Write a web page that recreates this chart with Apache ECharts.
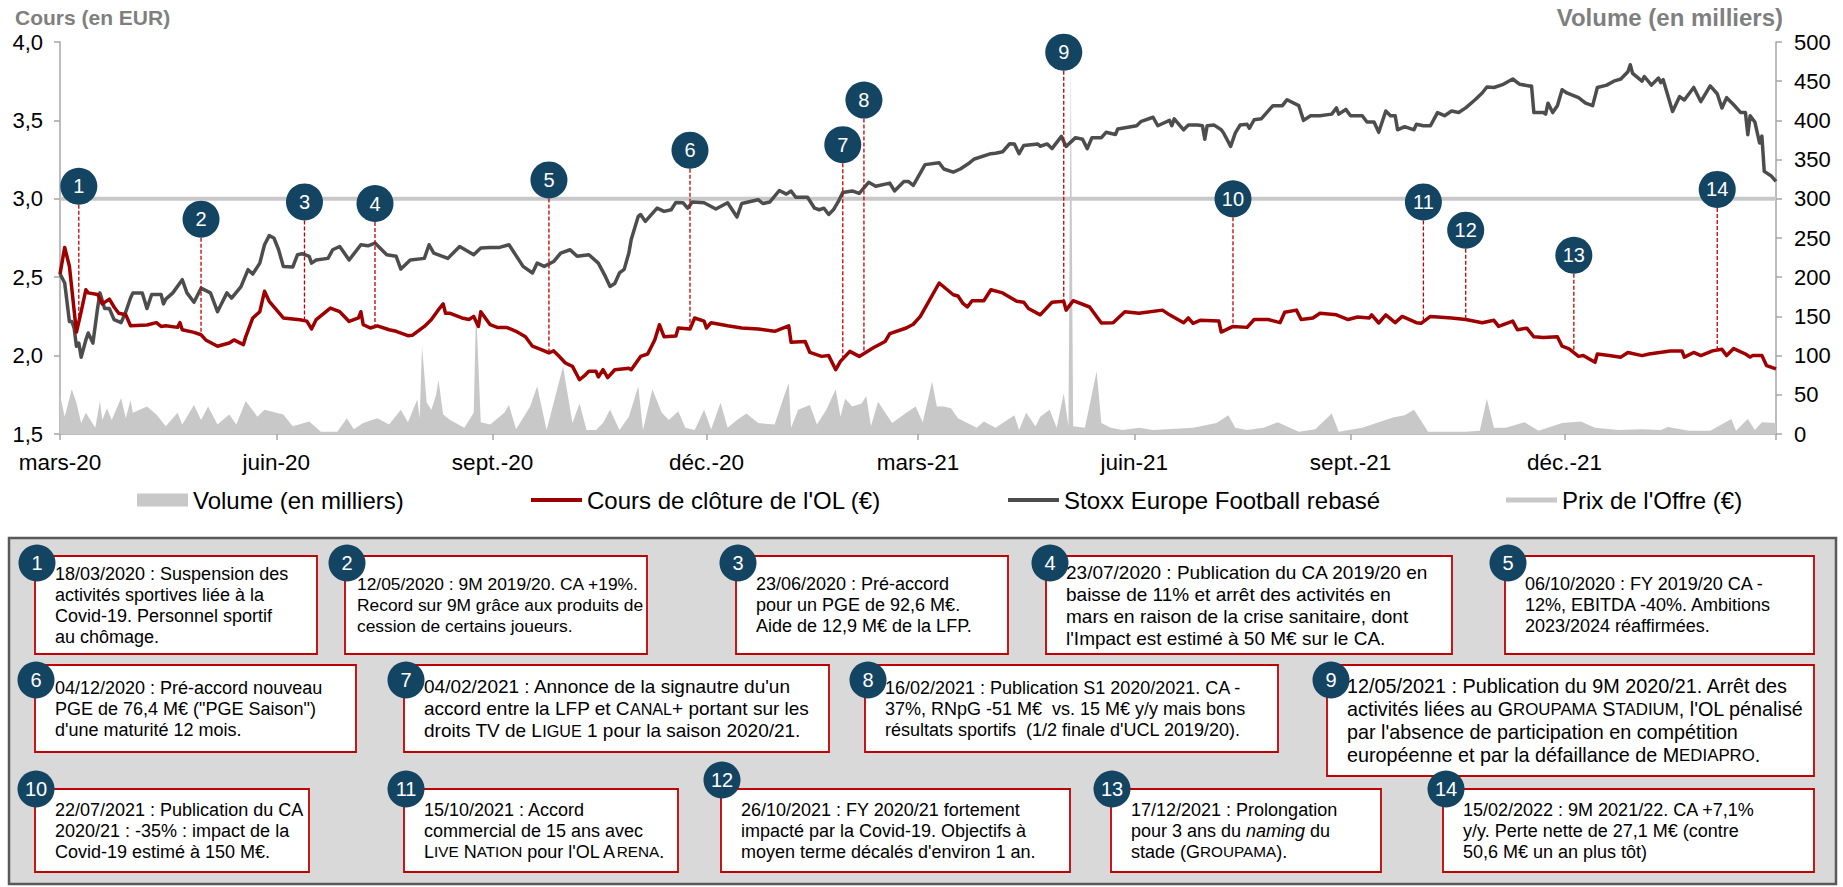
<!DOCTYPE html>
<html><head><meta charset="utf-8">
<script src="https://cdn.jsdelivr.net/npm/echarts@6.0.0/dist/echarts.min.js"></script>
<style>html,body{margin:0;padding:0;background:#fff;}#c{width:1843px;height:887px;}</style>
</head><body><div id="c"></div>
<script>
// ---------------- DATA ----------------
const axisStart = '2020-03-11', axisEnd = '2022-03-11';
const tickDates = ['2020-03-11','2020-06-11','2020-09-11','2020-12-11','2021-03-11','2021-06-11','2021-09-11','2021-12-11'];
const tickLabels = ['mars-20','juin-20','sept.-20','déc.-20','mars-21','juin-21','sept.-21','déc.-21'];
const offerPrice = 3.0;

const olClose = [
['2020-03-11',2.52],['2020-03-13',2.69],['2020-03-15',2.57],['2020-03-18',2.15],['2020-03-20',2.28],['2020-03-22',2.42],['2020-03-23',2.40],['2020-03-27',2.39],['2020-03-28',2.36],['2020-03-29',2.33],
['2020-04-01',2.36],['2020-04-03',2.31],['2020-04-05',2.27],['2020-04-08',2.26],['2020-04-10',2.19],['2020-04-17',2.195],['2020-04-21',2.21],['2020-04-23',2.186],['2020-04-25',2.19],['2020-04-30',2.18],
['2020-05-01',2.21],['2020-05-02',2.165],['2020-05-07',2.148],['2020-05-10',2.133],['2020-05-12',2.10],['2020-05-17',2.06],['2020-05-22',2.08],['2020-05-24',2.10],['2020-05-28',2.07],['2020-05-29',2.12],
['2020-06-01',2.24],['2020-06-04',2.28],['2020-06-06',2.41],['2020-06-08',2.346],['2020-06-11',2.293],['2020-06-14',2.24],['2020-06-21',2.229],['2020-06-24',2.22],['2020-06-26',2.17],['2020-06-28',2.23],
['2020-07-04',2.303],['2020-07-08',2.28],['2020-07-12',2.218],['2020-07-16',2.24],['2020-07-17',2.28],['2020-07-18',2.197],['2020-07-21',2.176],['2020-07-24',2.19],['2020-07-29',2.165],
['2020-08-01',2.155],['2020-08-06',2.127],['2020-08-08',2.13],['2020-08-13',2.186],['2020-08-16',2.23],['2020-08-19',2.293],['2020-08-21',2.33],['2020-08-22',2.27],['2020-08-24',2.27],['2020-08-29',2.24],
['2020-09-01',2.23],['2020-09-03',2.25],['2020-09-05',2.186],['2020-09-06',2.28],['2020-09-10',2.197],['2020-09-13',2.18],['2020-09-17',2.18],['2020-09-21',2.155],['2020-09-25',2.12],['2020-09-28',2.06],
['2020-10-02',2.037],['2020-10-05',2.017],['2020-10-07',2.03],['2020-10-09',2.0],['2020-10-12',1.953],['2020-10-15',1.931],['2020-10-18',1.846],['2020-10-20',1.87],['2020-10-22',1.90],['2020-10-25',1.90],
['2020-10-26',1.864],['2020-10-28',1.91],['2020-10-30',1.86],['2020-11-02',1.91],['2020-11-08',1.92],['2020-11-09',1.91],['2020-11-13',1.995],['2020-11-16',2.01],['2020-11-19',2.10],['2020-11-21',2.197],
['2020-11-23',2.12],['2020-11-28',2.125],['2020-11-29',2.176],['2020-12-04',2.17],['2020-12-06',2.24],['2020-12-10',2.22],['2020-12-11',2.176],['2020-12-13',2.21],['2020-12-20',2.19],['2020-12-26',2.176],
['2021-01-02',2.17],['2021-01-09',2.155],['2021-01-15',2.19],['2021-01-16',2.085],['2021-01-22',2.09],['2021-01-24',2.02],['2021-01-29',1.995],['2021-02-01',2.0],['2021-02-04',1.91],['2021-02-06',1.963],
['2021-02-10',2.027],['2021-02-14',1.995],['2021-02-20',2.05],['2021-02-25',2.09],['2021-02-27',2.14],['2021-03-06',2.176],['2021-03-09',2.2],['2021-03-12',2.25],['2021-03-20',2.463],['2021-03-26',2.388],
['2021-03-28',2.38],['2021-03-30',2.335],['2021-04-01',2.31],['2021-04-03',2.35],['2021-04-08',2.35],['2021-04-11',2.42],['2021-04-16',2.40],['2021-04-22',2.346],['2021-04-25',2.34],['2021-04-27',2.30],
['2021-05-02',2.26],['2021-05-07',2.34],['2021-05-12',2.346],['2021-05-13',2.29],['2021-05-16',2.35],['2021-05-23',2.31],['2021-05-28',2.208],['2021-06-02',2.21],['2021-06-07',2.28],['2021-06-13',2.27],
['2021-06-23',2.29],['2021-06-26',2.26],['2021-07-02',2.21],['2021-07-04',2.24],['2021-07-06',2.206],['2021-07-09',2.225],['2021-07-17',2.22],['2021-07-18',2.15],['2021-07-23',2.186],['2021-07-29',2.18],
['2021-08-01',2.23],['2021-08-07',2.23],['2021-08-12',2.21],['2021-08-14',2.276],['2021-08-19',2.29],['2021-08-21',2.23],['2021-08-26',2.24],['2021-08-29',2.27],['2021-09-05',2.26],['2021-09-10',2.23],
['2021-09-14',2.246],['2021-09-19',2.24],['2021-09-20',2.26],['2021-09-23',2.208],['2021-09-26',2.26],['2021-09-30',2.21],['2021-10-03',2.25],['2021-10-09',2.21],['2021-10-11',2.206],['2021-10-15',2.25],
['2021-10-24',2.24],['2021-10-30',2.23],['2021-11-06',2.21],['2021-11-11',2.225],['2021-11-13',2.186],['2021-11-19',2.22],['2021-11-21',2.165],['2021-11-25',2.175],['2021-11-28',2.12],['2021-12-02',2.116],
['2021-12-08',2.12],['2021-12-10',2.06],['2021-12-13',2.043],['2021-12-17',1.995],['2021-12-19',2.0],['2021-12-24',1.957],['2021-12-25',2.01],['2021-12-30',2.0],['2022-01-04',1.99],['2022-01-07',2.02],
['2022-01-13',2.0],['2022-01-16',2.01],['2022-01-25',2.03],['2022-01-30',2.03],['2022-01-31',1.99],['2022-02-04',2.02],['2022-02-07',2.0],['2022-02-12',2.03],['2022-02-16',2.04],['2022-02-18',2.0],
['2022-02-21',2.045],['2022-02-26',2.01],['2022-02-28',1.99],['2022-03-01',2.0],['2022-03-05',2.0],['2022-03-07',1.936],['2022-03-11',1.915]
];

const stoxxRebased = [
['2020-03-11',2.522],['2020-03-13',2.463],['2020-03-15',2.218],['2020-03-16',2.218],['2020-03-17',2.176],['2020-03-18',2.059],['2020-03-19',2.08],['2020-03-20',1.99],['2020-03-22',2.10],['2020-03-23',2.144],
['2020-03-25',2.08],['2020-03-27',2.303],['2020-03-28',2.40],['2020-03-30',2.30],['2020-04-01',2.30],['2020-04-03',2.229],['2020-04-06',2.21],['2020-04-08',2.28],['2020-04-10',2.367],['2020-04-11',2.40],
['2020-04-15',2.40],['2020-04-17',2.30],['2020-04-19',2.39],['2020-04-23',2.39],['2020-04-24',2.33],['2020-04-25',2.36],['2020-04-28',2.40],['2020-05-02',2.484],['2020-05-04',2.40],['2020-05-07',2.34],
['2020-05-10',2.43],['2020-05-14',2.40],['2020-05-17',2.28],['2020-05-18',2.31],['2020-05-21',2.40],['2020-05-23',2.367],['2020-05-27',2.44],['2020-05-30',2.548],['2020-06-01',2.52],['2020-06-04',2.59],
['2020-06-06',2.707],['2020-06-08',2.765],['2020-06-10',2.75],['2020-06-12',2.675],['2020-06-14',2.569],['2020-06-18',2.565],['2020-06-20',2.643],['2020-06-22',2.65],['2020-06-25',2.633],['2020-06-26',2.59],
['2020-06-28',2.61],['2020-07-03',2.62],['2020-07-05',2.675],['2020-07-08',2.696],['2020-07-12',2.61],['2020-07-17',2.707],['2020-07-20',2.70],['2020-07-23',2.718],['2020-07-28',2.643],['2020-08-01',2.633],
['2020-08-03',2.552],['2020-08-07',2.61],['2020-08-13',2.62],['2020-08-15',2.707],['2020-08-17',2.654],['2020-08-23',2.62],['2020-08-28',2.696],['2020-09-03',2.643],['2020-09-06',2.686],['2020-09-10',2.69],
['2020-09-14',2.69],['2020-09-18',2.707],['2020-09-24',2.569],['2020-09-28',2.527],['2020-09-30',2.59],['2020-10-03',2.569],['2020-10-07',2.60],['2020-10-10',2.654],['2020-10-14',2.675],['2020-10-17',2.633],
['2020-10-22',2.643],['2020-10-26',2.59],['2020-10-29',2.505],['2020-10-31',2.441],['2020-11-02',2.46],['2020-11-04',2.527],['2020-11-06',2.55],['2020-11-08',2.655],['2020-11-09',2.74],['2020-11-12',2.888],
['2020-11-13',2.90],['2020-11-15',2.856],['2020-11-20',2.941],['2020-11-23',2.92],['2020-11-26',2.93],['2020-11-28',2.977],['2020-12-01',2.975],['2020-12-03',2.94],['2020-12-05',2.98],['2020-12-10',2.975],
['2020-12-15',2.935],['2020-12-20',2.975],['2020-12-24',2.884],['2020-12-26',2.97],['2021-01-02',2.994],['2021-01-04',2.97],['2021-01-07',2.98],['2021-01-11',3.053],['2021-01-14',3.03],['2021-01-16',3.05],
['2021-01-18',3.01],['2021-01-23',3.01],['2021-01-26',2.94],['2021-01-28',2.93],['2021-01-30',2.94],['2021-02-01',2.90],['2021-02-03',2.93],['2021-02-05',2.98],['2021-02-07',3.04],['2021-02-11',3.05],
['2021-02-14',3.035],['2021-02-18',3.105],['2021-02-21',3.08],['2021-02-27',3.10],['2021-03-01',3.05],['2021-03-05',3.11],['2021-03-07',3.11],['2021-03-09',3.085],['2021-03-14',3.218],['2021-03-20',3.23],
['2021-03-22',3.19],['2021-03-26',3.17],['2021-03-29',3.19],['2021-04-02',3.23],['2021-04-04',3.254],['2021-04-11',3.288],['2021-04-13',3.29],['2021-04-16',3.30],['2021-04-19',3.351],['2021-04-21',3.35],
['2021-04-23',3.288],['2021-04-25',3.34],['2021-05-01',3.35],['2021-05-02',3.335],['2021-05-05',3.35],['2021-05-07',3.32],['2021-05-11',3.398],['2021-05-13',3.334],['2021-05-17',3.39],['2021-05-20',3.38],
['2021-05-22',3.32],['2021-05-24',3.39],['2021-05-28',3.39],['2021-05-30',3.424],['2021-06-03',3.41],['2021-06-04',3.445],['2021-06-12',3.466],['2021-06-14',3.494],['2021-06-19',3.52],['2021-06-21',3.466],
['2021-06-26',3.50],['2021-06-27',3.466],['2021-06-28',3.51],['2021-07-02',3.44],['2021-07-04',3.47],['2021-07-08',3.47],['2021-07-10',3.466],['2021-07-11',3.38],['2021-07-12',3.466],['2021-07-15',3.47],
['2021-07-18',3.44],['2021-07-19',3.42],['2021-07-22',3.334],['2021-07-24',3.42],['2021-07-26',3.47],['2021-07-29',3.475],['2021-07-30',3.45],['2021-08-01',3.504],['2021-08-04',3.51],['2021-08-09',3.594],
['2021-08-13',3.594],['2021-08-15',3.632],['2021-08-20',3.594],['2021-08-22',3.50],['2021-08-25',3.53],['2021-08-29',3.53],['2021-09-03',3.54],['2021-09-05',3.58],['2021-09-06',3.54],['2021-09-09',3.57],
['2021-09-11',3.53],['2021-09-16',3.53],['2021-09-18',3.49],['2021-09-21',3.49],['2021-09-23',3.424],['2021-09-26',3.56],['2021-09-28',3.53],['2021-09-30',3.53],['2021-10-01',3.44],['2021-10-04',3.46],
['2021-10-08',3.44],['2021-10-09',3.475],['2021-10-12',3.466],['2021-10-15',3.466],['2021-10-18',3.55],['2021-10-21',3.53],['2021-10-24',3.56],['2021-10-27',3.55],['2021-10-30',3.58],['2021-11-03',3.632],
['2021-11-06',3.675],['2021-11-08',3.713],['2021-11-11',3.71],['2021-11-15',3.73],['2021-11-19',3.764],['2021-11-22',3.73],['2021-11-26',3.72],['2021-11-27',3.72],['2021-11-28',3.55],['2021-12-02',3.55],
['2021-12-03',3.54],['2021-12-04',3.61],['2021-12-06',3.55],['2021-12-08',3.594],['2021-12-10',3.696],['2021-12-12',3.675],['2021-12-17',3.645],['2021-12-20',3.61],['2021-12-23',3.594],['2021-12-25',3.71],
['2021-12-29',3.725],['2022-01-01',3.75],['2022-01-04',3.764],['2022-01-07',3.81],['2022-01-08',3.855],['2022-01-09',3.80],['2022-01-13',3.75],['2022-01-14',3.78],['2022-01-17',3.725],['2022-01-20',3.77],
['2022-01-21',3.74],['2022-01-22',3.76],['2022-01-26',3.557],['2022-01-29',3.652],['2022-01-31',3.63],['2022-02-04',3.71],['2022-02-07',3.62],['2022-02-11',3.72],['2022-02-14',3.67],['2022-02-16',3.579],
['2022-02-18',3.645],['2022-02-21',3.60],['2022-02-24',3.55],['2022-02-26',3.55],['2022-02-27',3.409],['2022-02-28',3.53],['2022-03-02',3.49],['2022-03-04',3.356],['2022-03-05',3.40],['2022-03-06',3.175],
['2022-03-09',3.145],['2022-03-11',3.111]
];

const volumeK = [
['2020-03-11',50],['2020-03-13',22],['2020-03-16',57],['2020-03-18',40],['2020-03-20',14],['2020-03-22',27],['2020-03-26',8],['2020-03-28',42],['2020-03-29',18],['2020-03-31',33],
['2020-04-02',18],['2020-04-06',46],['2020-04-08',20],['2020-04-10',43],['2020-04-11',27],['2020-04-17',35],['2020-04-21',25],['2020-04-25',10],['2020-04-30',27],['2020-05-02',12],
['2020-05-07',37],['2020-05-10',18],['2020-05-13',35],['2020-05-17',12],['2020-05-22',25],['2020-05-25',12],['2020-05-29',42],['2020-06-03',22],['2020-06-06',31],['2020-06-11',27],
['2020-06-14',25],['2020-06-18',10],['2020-06-25',16],['2020-06-30',3],['2020-07-07',3],['2020-07-11',20],['2020-07-14',6],['2020-07-18',14],['2020-07-24',20],['2020-07-29',12],
['2020-08-03',31],['2020-08-06',15],['2020-08-10',44],['2020-08-11',20],['2020-08-12',112],['2020-08-14',40],['2020-08-16',31],['2020-08-18',50],['2020-08-19',69],['2020-08-21',25],
['2020-08-24',18],['2020-08-30',8],['2020-09-03',27],['2020-09-04',160],['2020-09-06',15],['2020-09-10',12],['2020-09-16',27],['2020-09-18',37],['2020-09-21',6],['2020-09-27',35],
['2020-09-30',61],['2020-10-04',5],['2020-10-11',86],['2020-10-15',14],['2020-10-18',39],['2020-10-21',5],['2020-10-25',5],['2020-10-28',14],['2020-10-31',31],['2020-11-04',5],
['2020-11-08',22],['2020-11-12',61],['2020-11-14',5],['2020-11-18',57],['2020-11-22',27],['2020-11-25',18],['2020-11-29',29],['2020-12-02',8],['2020-12-06',5],['2020-12-10',31],
['2020-12-13',6],['2020-12-17',40],['2020-12-20',8],['2020-12-24',18],['2020-12-28',26],['2021-01-02',14],['2021-01-09',12],['2021-01-13',48],['2021-01-15',65],['2021-01-16',8],
['2021-01-19',31],['2021-01-24',37],['2021-01-27',12],['2021-01-31',31],['2021-02-04',57],['2021-02-06',22],['2021-02-08',45],['2021-02-11',35],['2021-02-15',39],['2021-02-17',48],
['2021-02-19',10],['2021-02-22',41],['2021-02-28',14],['2021-03-06',27],['2021-03-10',35],['2021-03-13',15],['2021-03-17',67],['2021-03-19',35],['2021-03-22',35],['2021-03-25',33],
['2021-03-28',20],['2021-04-01',14],['2021-04-05',8],['2021-04-08',16],['2021-04-13',8],['2021-04-21',24],['2021-04-23',5],['2021-04-26',27],['2021-04-30',10],['2021-05-02',22],
['2021-05-06',31],['2021-05-09',8],['2021-05-12',52],['2021-05-14',10],['2021-05-15',470],['2021-05-16',10],['2021-05-21',8],['2021-05-26',80],['2021-05-28',14],['2021-06-01',8],
['2021-06-06',5],['2021-06-13',8],['2021-06-19',5],['2021-07-06',8],['2021-07-16',14],['2021-07-21',24],['2021-07-24',8],['2021-07-29',5],['2021-08-05',8],['2021-08-11',15],
['2021-08-20',3],['2021-08-27',6],['2021-09-03',26],['2021-09-06',3],['2021-09-16',8],['2021-09-23',15],['2021-09-29',21],['2021-10-04',24],['2021-10-08',31],['2021-10-14',3],
['2021-10-22',3],['2021-10-30',3],['2021-11-05',4],['2021-11-08',45],['2021-11-11',8],['2021-11-16',8],['2021-11-24',15],['2021-11-30',4],['2021-12-10',14],['2021-12-18',16],
['2021-12-24',8],['2022-01-03',5],['2022-01-13',6],['2022-01-21',5],['2022-01-24',9],['2022-02-02',4],['2022-02-11',4],['2022-02-20',19],['2022-02-22',4],['2022-02-27',19],
['2022-03-02',5],['2022-03-05',15],['2022-03-11',14]
];

// Events: number, position of the marker on the time axis (as drawn), bubble level on the price axis
const eventIds = [1,2,3,4,5,6,7,8,9,10,11,12,13,14];
const eventPlotDates = ['2020-03-19','2020-05-10','2020-06-23','2020-07-23','2020-10-05','2020-12-04','2021-02-07','2021-02-16','2021-05-12','2021-07-23','2021-10-12','2021-10-30','2021-12-15','2022-02-14'];
const eventBubbleLevels = [3.08,2.87,2.98,2.97,3.12,3.31,3.345,3.63,3.935,3.0,2.98,2.80,2.64,3.06];
const eventTexts = [
"18/03/2020 : Suspension des\nactivités sportives liée à la\nCovid-19. Personnel sportif\nau chômage.",
"12/05/2020 : 9M 2019/20. CA +19%.\nRecord sur 9M grâce aux produits de\ncession de certains joueurs.",
"23/06/2020 : Pré-accord\npour un PGE de 92,6 M€.\nAide de 12,9 M€ de la LFP.",
"23/07/2020 : Publication du CA 2019/20 en\nbaisse de 11% et arrêt des activités en\nmars en raison de la crise sanitaire, dont\nl'Impact est estimé à 50 M€ sur le CA.",
"06/10/2020 : FY 2019/20 CA -\n12%, EBITDA -40%. Ambitions\n2023/2024 réaffirmées.",
"04/12/2020 : Pré-accord nouveau\nPGE de 76,4 M€ (\"PGE Saison\")\nd'une maturité 12 mois.",
"04/02/2021 : Annonce de la signautre du'un\naccord entre la LFP et C{sc|ANAL}+ portant sur les\ndroits TV de L{sc|IGUE} 1 pour la saison 2020/21.",
"16/02/2021 : Publication S1 2020/2021. CA -\n37%, RNpG -51 M€  vs. 15 M€ y/y mais bons\nrésultats sportifs  (1/2 finale d'UCL 2019/20).",
"12/05/2021 : Publication du 9M 2020/21. Arrêt des\nactivités liées au G{sc|ROUPAMA} S{sc|TADIUM}, l'OL pénalisé\npar l'absence de participation en compétition\neuropéenne et par la défaillance de M{sc|EDIAPRO}.",
"22/07/2021 : Publication du CA\n2020/21 : -35% : impact de la\nCovid-19 estimé à 150 M€.",
"15/10/2021 : Accord\ncommercial de 15 ans avec\nL{sc|IVE} N{sc|ATION} pour l'OL A{sc|RENA}.",
"26/10/2021 : FY 2020/21 fortement\nimpacté par la Covid-19. Objectifs à\nmoyen terme décalés d'environ 1 an.",
"17/12/2021 : Prolongation\npour 3 ans du {it|naming} du\nstade (G{sc|ROUPAMA}).",
"15/02/2022 : 9M 2021/22. CA +7,1%\ny/y. Perte nette de 27,1 M€ (contre\n50,6 M€ un an plus tôt)"
];

// ---------------- LAYOUT / STYLE ----------------
const FONT = '"Liberation Sans", Arial, Helvetica, sans-serif';
const NAVY = '#134462';
const RED = '#9e0000';
const DARK = '#4d4d4d';
const LIGHT = '#c8c8c8';
const AXIS = '#a6a6a6';
const R = 18.5;
// panel boxes: [x, y, w, h, bubbleX, bubbleY, fontSize, lineHeight, textPadLeft]
const boxLayout = [
[35,556,282,98,37,563,18,21,20],[345,556,302,98,347,563,17.4,21,12],[736,556,272,98,738,563,18,21,20],[1046,556,406,98,1050,563,19,22,20],[1505,556,309,98,1508,563,18,21,20],
[35,665,321,87,36,680,18,21,20],[404,665,425,87,406,680,19,22,20],[865,665,413,87,868,680,18,21,20],[1327,665,487,111,1331,680,19.8,23,20],
[35,789,274,83,36,789,18,21,20],[404,789,274,83,406,789,18,21,20],[721,789,349,83,722,780,18,21,20],[1111,789,270,83,1112,789,18,21,20],[1443,789,371,83,1446,789,18,21,20]
];

const ts = s => { const p = s.split('-').map(Number); return new Date(p[0], p[1]-1, p[2]).getTime(); };
const tickTs = tickDates.map(ts);
const toXY = arr => arr.map(p => [ts(p[0]), p[1]]);
function olAt(dateStr) {
  const t = ts(dateStr);
  for (let i = 1; i < olClose.length; i++) {
    const t0 = ts(olClose[i-1][0]), t1 = ts(olClose[i][0]);
    if (t >= t0 && t <= t1) {
      const f = t1 === t0 ? 0 : (t - t0) / (t1 - t0);
      return olClose[i-1][1] + f * (olClose[i][1] - olClose[i-1][1]);
    }
  }
  return olClose[olClose.length-1][1];
}

const chart = echarts.init(document.getElementById('c'), null, {renderer: 'svg', width: 1843, height: 887});

const graphics = [
  {type: 'text', x: 15, y: 17, style: {text: 'Cours (en EUR)', fontSize: 21, fontWeight: 'bold', fontFamily: FONT, fill: '#7f7f7f', align: 'left', verticalAlign: 'middle'}},
  {type: 'text', x: 1783, y: 17, style: {text: 'Volume (en milliers)', fontSize: 24, fontWeight: 'bold', fontFamily: FONT, fill: '#7f7f7f', align: 'right', verticalAlign: 'middle'}},
  {type: 'rect', shape: {x: 9, y: 538, width: 1827, height: 346}, style: {fill: '#d9d9d9', stroke: '#595959', lineWidth: 2.5}, z: 1}
];
boxLayout.forEach((b, i) => {
  const fs = b[6], lh = b[7];
  const rich = {
    sc: {fontSize: fs * 0.85, fontFamily: FONT, lineHeight: lh, fill: '#000'},
    it: {fontSize: fs, fontStyle: 'italic', fontFamily: FONT, lineHeight: lh, fill: '#000'}
  };
  graphics.push({type: 'rect', shape: {x: b[0], y: b[1], width: b[2], height: b[3]}, style: {fill: '#fff', stroke: '#c00000', lineWidth: 1.8}, z: 2});
  graphics.push({type: 'text', x: b[0] + b[8], y: b[1] + b[3] / 2, z: 3,
    style: {text: eventTexts[i], fontSize: fs, fontFamily: FONT, lineHeight: lh, fill: '#000', align: 'left', verticalAlign: 'middle', rich: rich}});
  graphics.push({type: 'circle', shape: {cx: b[4], cy: b[5], r: R}, style: {fill: NAVY}, z: 4});
  graphics.push({type: 'text', x: b[4], y: b[5], z: 5, style: {text: String(eventIds[i]), fontSize: 20, fontFamily: FONT, fill: '#fff', align: 'center', verticalAlign: 'middle'}});
});

const legendBase = {orient: 'horizontal', padding: 0, itemGap: 0, top: 488, itemWidth: 51,
  textStyle: {fontSize: 24, fontFamily: FONT, color: '#000'}, selectedMode: false};

const option = {
  animation: false,
  backgroundColor: '#fff',
  grid: {left: 60, right: 67, top: 42, bottom: 453, containLabel: false},
  legend: [
    Object.assign({}, legendBase, {left: 137, data: ['Volume (en milliers)'], icon: 'rect', itemHeight: 13}),
    Object.assign({}, legendBase, {left: 531, data: ["Cours de clôture de l'OL (€)"], icon: 'rect', itemHeight: 4}),
    Object.assign({}, legendBase, {left: 1008, data: ['Stoxx Europe Football rebasé'], icon: 'rect', itemHeight: 4}),
    Object.assign({}, legendBase, {left: 1506, data: ["Prix de l'Offre (€)"], icon: 'rect', itemHeight: 5})
  ],
  xAxis: {
    type: 'value', min: ts(axisStart), max: ts(axisEnd), scale: true,
    axisLine: {show: true, lineStyle: {color: AXIS, width: 1.5}},
    axisTick: {show: true, length: 6, lineStyle: {color: AXIS, width: 1.5}, customValues: tickTs.concat([ts(axisEnd)])},
    axisLabel: {customValues: tickTs, formatter: v => { const k = tickTs.indexOf(v); return k >= 0 ? tickLabels[k] : ''; },
      color: '#000', fontSize: 22.5, fontFamily: FONT, margin: 17},
    splitLine: {show: false}
  },
  yAxis: [
    {type: 'value', position: 'left', min: 1.5, max: 4.0, interval: 0.5,
      axisLine: {show: true, lineStyle: {color: AXIS, width: 1.5}},
      axisTick: {show: true, length: 6, lineStyle: {color: AXIS, width: 1.5}},
      axisLabel: {formatter: v => v.toFixed(1).replace('.', ','), color: '#000', fontSize: 22, fontFamily: FONT, margin: 17},
      splitLine: {show: false}},
    {type: 'value', position: 'right', min: 0, max: 500, interval: 50,
      axisLine: {show: true, lineStyle: {color: AXIS, width: 1.5}},
      axisTick: {show: true, length: 6, lineStyle: {color: AXIS, width: 1.5}},
      axisLabel: {color: '#000', fontSize: 22, fontFamily: FONT, margin: 18},
      splitLine: {show: false}}
  ],
  series: [
    {name: 'Volume (en milliers)', type: 'line', yAxisIndex: 1, data: toXY(volumeK), symbol: 'none', z: 1,
      itemStyle: {color: LIGHT}, lineStyle: {width: 0, color: LIGHT}, areaStyle: {color: LIGHT, opacity: 1}},
    {name: "Prix de l'Offre (€)", type: 'line', yAxisIndex: 0, data: [[ts(axisStart), offerPrice], [ts(axisEnd), offerPrice]], symbol: 'none', z: 2,
      itemStyle: {color: LIGHT}, lineStyle: {width: 4, color: LIGHT}},
    {name: 'Stoxx Europe Football rebasé', type: 'line', yAxisIndex: 0, data: toXY(stoxxRebased), symbol: 'none', z: 3,
      itemStyle: {color: DARK}, lineStyle: {width: 3.5, color: DARK, join: 'round'}},
    {name: "Cours de clôture de l'OL (€)", type: 'line', yAxisIndex: 0, data: toXY(olClose), symbol: 'none', z: 4,
      itemStyle: {color: RED}, lineStyle: {width: 3.5, color: RED, join: 'round'}},
    {name: 'events', type: 'custom', yAxisIndex: 0, z: 10, clip: false,
      data: eventPlotDates.map((d, i) => [ts(d), eventBubbleLevels[i], olAt(d)]),
      encode: {x: 0, y: 1},
      renderItem: (params, api) => {
        const t = api.value(0);
        const top = api.coord([t, api.value(1)]);
        const bot = api.coord([t, api.value(2)]);
        return {type: 'group', children: [
          {type: 'line', shape: {x1: top[0], y1: top[1] + R, x2: top[0], y2: bot[1]}, style: {stroke: '#c00000', lineWidth: 1.3, lineDash: [4, 2]}},
          {type: 'circle', shape: {cx: top[0], cy: top[1], r: R}, style: {fill: NAVY}},
          {type: 'text', style: {x: top[0], y: top[1], text: String(eventIds[params.dataIndex]), fill: '#fff', fontSize: 20, fontFamily: FONT, align: 'center', verticalAlign: 'middle'}}
        ]};
      }}
  ],
  graphic: graphics
};
chart.setOption(option);
</script></body></html>
